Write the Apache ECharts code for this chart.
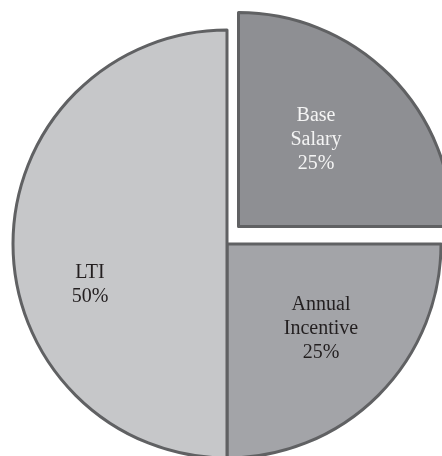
<!DOCTYPE html>
<html>
<head>
<meta charset="utf-8">
<style>
  html, body { margin: 0; padding: 0; background: #ffffff; }
  #chart { width: 442px; height: 456px; }
</style>
<script src="https://cdn.jsdelivr.net/npm/echarts@6/dist/echarts.min.js"></script>
</head>
<body>
<div id="chart"></div>
<script>
// Pay mix components (clockwise from 12 o'clock)
const categories = ['Base\nSalary', 'Annual\nIncentive', 'LTI'];
const shares = [25, 25, 50];
const fills = ['#8e8f93', '#a3a4a8', '#c6c7c9'];
const textColors = ['#f4f4f4', '#231f20', '#231f20'];

// Label block centres in pixels
const labelSpots = [[316, 140], [321, 329], [90, 285]];

const R = 214;
const mainCenter = [227, 244];
const pulledCenter = [238.5, 226.5]; // Base Salary is pulled out from the pie
const EXPLODED = 0;

function makeData(visibleIndex) {
  return categories.map((name, i) => {
    const shown = visibleIndex === null ? i !== EXPLODED : i === visibleIndex;
    return {
      name: name,
      value: shares[i],
      itemStyle: shown
        ? { color: fills[i], borderColor: '#606163', borderWidth: 3 }
        : { color: 'rgba(0,0,0,0)', borderWidth: 0 },
      label: shown
        ? { show: true, color: textColors[i] }
        : { show: false }
    };
  });
}

const labelStyle = {
  position: 'inside',
  formatter: p => p.name + '\n' + p.value + '%',
  fontFamily: '"Liberation Serif", "Times New Roman", serif',
  fontSize: 20,
  lineHeight: 24,
  align: 'center',
  verticalAlign: 'middle'
};

function placeLabel(params) {
  const s = labelSpots[params.dataIndex];
  return { x: s[0], y: s[1] };
}

const chart = echarts.init(document.getElementById('chart'), null, { renderer: 'canvas' });
chart.setOption({
  animation: false,
  series: [
    {
      type: 'pie',
      center: mainCenter,
      radius: R,
      startAngle: 90,
      clockwise: true,
      silent: true,
      label: labelStyle,
      labelLine: { show: false },
      labelLayout: placeLabel,
      data: makeData(null)
    },
    {
      type: 'pie',
      center: pulledCenter,
      radius: R,
      startAngle: 90,
      clockwise: true,
      silent: true,
      label: labelStyle,
      labelLine: { show: false },
      labelLayout: placeLabel,
      data: makeData(EXPLODED)
    }
  ]
});
</script>
</body>
</html>
